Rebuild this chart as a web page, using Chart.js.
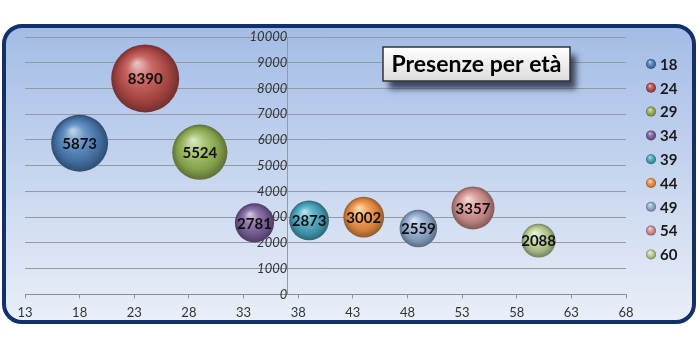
<!DOCTYPE html>
<html>
<head>
<meta charset="utf-8">
<script src="https://cdn.jsdelivr.net/npm/chart.js@4.4.1/dist/chart.umd.min.js"></script>
<style>
    html, body { margin: 0; padding: 0; background: #fff; overflow: hidden; }
    #grafico { margin-left: -9px; display: block; }
</style>
</head>
<body>
<canvas id="grafico" width="709" height="350"></canvas>
<script>
// dati
const eta = [18, 24, 29, 34, 39, 44, 49, 54, 60]
const presenze = [5873, 8390, 5524, 2781, 2873, 3002, 2559, 3357, 2088]
const colori = ["#4f81bd", "#c0504d", "#9bbb59", "#8064a2", "#4bacc6", "#f79646", "#95b3d7", "#d99694", "#c3d69b"]
const titolo = "Presenze per età"

const xMin = 13, xMax = 68, xPasso = 5
const yMin = 0, yMax = 10000, yPasso = 1000
const yAsseSu = 37 // valore x dove passa l'asse y

const raggioMax = 34
const maxPresenze = Math.max(...presenze)
const FONT = "Lato, 'Open Sans', sans-serif"
const OFF = 9 // la canvas parte 9px a sinistra della pagina

// ---- colori
function mix(hex, t, verso) {
    let r = parseInt(hex.slice(1, 3), 16), g = parseInt(hex.slice(3, 5), 16), b = parseInt(hex.slice(5, 7), 16)
    let o = verso ? 255 : 0
    r = Math.round(r + (o - r) * t); g = Math.round(g + (o - g) * t); b = Math.round(b + (o - b) * t)
    return "rgb(" + r + "," + g + "," + b + ")"
}

function sfera(ctx, x, y, r, base) {
    let g = ctx.createRadialGradient(x - r * 0.25, y - r * 0.45, r * 0.02, x, y, r)
    g.addColorStop(0, mix(base, 0.65, true))
    g.addColorStop(0.35, mix(base, 0.15, true))
    g.addColorStop(0.75, mix(base, 0.15, false))
    g.addColorStop(1, mix(base, 0.4, false))
    return g
}

// ---- dataset, una bolla per ogni età
let datasets = eta.map(function(e, i) {
    return {
        label: String(e),
        data: [{ x: e, y: presenze[i], r: raggioMax * Math.sqrt(presenze[i] / maxPresenze) }],
        borderWidth: 0,
        backgroundColor: function(c) {
            let chart = c.chart
            if (c.type !== "data" || !chart.chartArea) return colori[i]
            let px = chart.scales.x.getPixelForValue(c.raw.x)
            let py = chart.scales.y.getPixelForValue(c.raw.y)
            return sfera(chart.ctx, px, py, c.raw.r, colori[i])
        }
    }
})

// ---- cornice e sfondo
const cornice = {
    id: "cornice",
    beforeDraw(chart) {
        let ctx = chart.ctx
        ctx.save()
        let x = 4 + OFF, y = 26, w = 690, h = 296, rr = 18
        ctx.beginPath()
        ctx.roundRect(x, y, w, h, rr)
        let g = ctx.createLinearGradient(0, y, 0, y + h)
        g.addColorStop(0, "#a3bce6")
        g.addColorStop(1, "#eaeff8")
        ctx.fillStyle = g
        ctx.fill()
        ctx.lineWidth = 4
        ctx.strokeStyle = "#13306b"
        ctx.stroke()
        ctx.restore()
    }
}

// ---- etichette sulle bolle, titolo, legenda
const testi = {
    id: "testi",
    afterDatasetsDraw(chart) {
        let ctx = chart.ctx
        ctx.save()
        ctx.font = "bold 15px " + FONT
        ctx.fillStyle = "#111"
        ctx.textAlign = "center"
        ctx.textBaseline = "middle"
        chart.data.datasets.forEach(function(ds, i) {
            let el = chart.getDatasetMeta(i).data[0]
            ctx.fillText(String(presenze[i]), el.x, el.y + 1)
        })
        ctx.restore()
    },
    afterDraw(chart) {
        let ctx = chart.ctx
        ctx.save()
        // titolo
        let bx = 383 + OFF, by = 47, bw = 187, bh = 34
        ctx.shadowColor = "rgba(20,30,50,0.75)"
        ctx.shadowBlur = 6
        ctx.shadowOffsetX = 6
        ctx.shadowOffsetY = 8
        ctx.fillStyle = "#fff"
        ctx.fillRect(bx, by, bw, bh)
        ctx.shadowColor = "transparent"
        let g = ctx.createLinearGradient(0, by, 0, by + bh)
        g.addColorStop(0, "#ffffff")
        g.addColorStop(1, "#dcdcdc")
        ctx.fillStyle = g
        ctx.fillRect(bx, by, bw, bh)
        ctx.lineWidth = 1.5
        ctx.strokeStyle = "#333"
        ctx.strokeRect(bx, by, bw, bh)
        ctx.font = "bold 23px " + FONT
        ctx.fillStyle = "#000"
        ctx.textAlign = "center"
        ctx.textBaseline = "middle"
        ctx.fillText(titolo, bx + bw / 2, by + bh / 2 + 1)

        // legenda
        ctx.font = "bold 15px " + FONT
        ctx.textAlign = "left"
        chart.data.datasets.forEach(function(ds, i) {
            let ly = 64 + i * 23.8
            let lx = 651 + OFF
            ctx.beginPath()
            ctx.arc(lx, ly, 5, 0, Math.PI * 2)
            ctx.fillStyle = sfera(ctx, lx, ly, 5, colori[i])
            ctx.fill()
            ctx.fillStyle = "#1a1a1a"
            ctx.fillText(ds.label, lx + 9, ly + 1)
        })
        ctx.restore()
    }
}

let ctxGrafico = document.getElementById("grafico").getContext("2d")
let grafico = new Chart(ctxGrafico, {
    type: "bubble",
    data: { datasets: datasets },
    plugins: [cornice, testi],
    options: {
        responsive: false,
        animation: false,
        layout: { padding: { left: 25, right: 74, top: 37, bottom: 22 } },
        plugins: {
            legend: { display: false },
            tooltip: { enabled: false }
        },
        scales: {
            x: {
                type: "linear",
                position: "bottom",
                min: xMin, max: xMax,
                ticks: { stepSize: xPasso, color: "#333", font: { family: FONT, size: 13 }, padding: 7 },
                grid: { drawOnChartArea: false, tickLength: 4, color: "#8a919c" },
                border: { color: "#8a919c" }
            },
            y: {
                type: "linear",
                position: { x: yAsseSu },
                min: yMin, max: yMax,
                ticks: {
                    stepSize: yPasso, color: "#333", padding: 4,
                    font: { family: FONT, size: 13, style: "italic" },
                    callback: function(v) { return String(v) }
                },
                grid: { color: "#939aa6", tickLength: 5 },
                border: { color: "#939aa6" }
            }
        }
    }
})
</script>
</body>
</html>
